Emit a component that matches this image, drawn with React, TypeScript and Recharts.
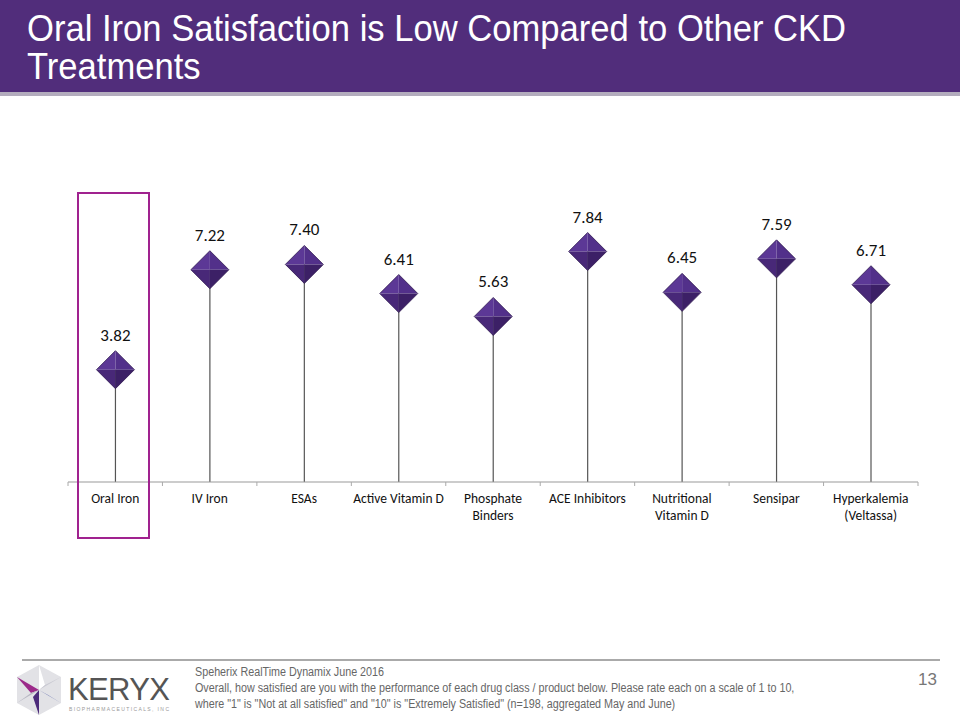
import { ComposedChart, Bar, XAxis, YAxis, LabelList } from "recharts";

const categories = [
  "Oral Iron",
  "IV Iron",
  "ESAs",
  "Active Vitamin D",
  "Phosphate\nBinders",
  "ACE Inhibitors",
  "Nutritional\nVitamin D",
  "Sensipar",
  "Hyperkalemia\n(Veltassa)",
];
const scores = [3.82, 7.22, 7.4, 6.41, 5.63, 7.84, 6.45, 7.59, 6.71];

const data = categories.map((name, i) => ({ name, score: scores[i] }));

const BAND = 850 / 9;
const labelFont = "Carlito, Lato, 'Open Sans', sans-serif";
const arial = "'Liberation Sans', Arial, sans-serif";

function Lollipop(props: any) {
  const { x, y, width, height } = props;
  const cx = x + width / 2;
  const h = 19;
  const w = 19;
  return (
    <g>
      <line x1={cx} y1={y} x2={cx} y2={y + height} stroke="#555" strokeWidth={1.2} />
      <polygon points={`${cx - w},${y} ${cx},${y - h} ${cx},${y}`} fill="#5c3896" />
      <polygon points={`${cx},${y - h} ${cx + w},${y} ${cx},${y}`} fill="#52308a" />
      <polygon points={`${cx - w},${y} ${cx},${y + h} ${cx},${y}`} fill="#482878" />
      <polygon points={`${cx},${y + h} ${cx + w},${y} ${cx},${y}`} fill="#3c2066" />
      <polygon
        points={`${cx - w},${y} ${cx},${y - h} ${cx + w},${y} ${cx},${y + h}`}
        fill="none"
        stroke="#2e1850"
        strokeWidth={0.8}
      />
    </g>
  );
}

function ValueLabel(props: any) {
  const { x, y, width, value } = props;
  return (
    <text
      x={x + width / 2}
      y={y - 29}
      textAnchor="middle"
      fontFamily={labelFont}
      fontSize={17}
      fill="#111"
    >
      {Number(value).toFixed(2)}
    </text>
  );
}

function CategoryTick(props: any) {
  const { x, y, payload, index } = props;
  const lines = String(payload.value).split("\n");
  return (
    <g>
      <line x1={x - BAND / 2} y1={y - 8} x2={x - BAND / 2} y2={y - 4} stroke="#aaa" />
      {index === categories.length - 1 && (
        <line x1={x + BAND / 2} y1={y - 8} x2={x + BAND / 2} y2={y - 4} stroke="#aaa" />
      )}
      {lines.map((l, i) => (
        <text
          key={i}
          x={x}
          y={y + 13 + i * 17}
          textAnchor="middle"
          fontFamily={labelFont}
          fontSize={13.5}
          fill="#111"
        >
          {l}
        </text>
      ))}
    </g>
  );
}

function Logo() {
  return (
    <svg width={175} height={54} style={{ position: "absolute", left: 14, top: 663 }}>
      <polygon points="25,2 47,14 47,40 25,52 3,40 3,14" fill="#e2e2e6" />
      <polygon points="25,2 31,22 25,27" fill="#ffffff" />
      <polygon points="3,14 25,27 17,30" fill="#9c2a8a" />
      <polygon points="47,14 25,27 31,22" fill="#c9c9d2" />
      <polygon points="25,27 47,40 34,32" fill="#3d4b9c" />
      <polygon points="25,27 25,52 19,34" fill="#4b2a7a" />
      <polygon points="25,27 3,40 17,30" fill="#b7b7c2" />
      <text x={54} y={37} fontFamily={arial} fontSize={31} fill="#555" textLength={102} lengthAdjust="spacing">
        KERYX
      </text>
      <text x={55} y={48} fontFamily={arial} fontSize={5} fill="#999" textLength={100} lengthAdjust="spacing">
        BIOPHARMACEUTICALS, INC
      </text>
    </svg>
  );
}

export default function App() {
  return (
    <div
      style={{
        position: "absolute",
        left: 0,
        top: 0,
        width: 960,
        height: 720,
        background: "#fff",
        overflow: "hidden",
      }}
    >
      <div
        style={{
          position: "absolute",
          left: 0,
          top: 0,
          width: 960,
          height: 92,
          background: "#512d7b",
          borderBottom: "4px solid #b3acbd",
        }}
      >
        <div
          style={{
            position: "absolute",
            left: 27,
            top: 10,
            color: "#fff",
            fontFamily: arial,
            fontSize: 37,
            lineHeight: "38px",
            whiteSpace: "nowrap",
            transform: "scaleX(0.935)",
            transformOrigin: "0 0",
          }}
        >
          Oral Iron Satisfaction is Low Compared to Other CKD
          <br />
          Treatments
        </div>
      </div>

      <div style={{ position: "absolute", left: 0, top: 0 }}>
        <ComposedChart
          width={960}
          height={720}
          data={data}
          margin={{ top: 188, right: 42, left: 68, bottom: 178 }}
        >
          <XAxis
            dataKey="name"
            interval={0}
            height={60}
            tick={<CategoryTick />}
            tickLine={false}
            axisLine={{ stroke: "#999" }}
          />
          <YAxis hide domain={[0, 10]} width={0} />
          <Bar dataKey="score" shape={<Lollipop />} isAnimationActive={false}>
            <LabelList dataKey="score" content={<ValueLabel />} />
          </Bar>
        </ComposedChart>
      </div>

      <div
        style={{
          position: "absolute",
          left: 77,
          top: 192,
          width: 69,
          height: 343,
          border: "2px solid #a0228f",
        }}
      />

      <div
        style={{
          position: "absolute",
          left: 22,
          top: 659,
          width: 918,
          height: 2,
          background: "#aaa",
        }}
      />
      <Logo />
      <div
        style={{
          position: "absolute",
          left: 195,
          top: 664,
          fontFamily: arial,
          fontSize: 12.5,
          lineHeight: "16px",
          color: "#666",
          whiteSpace: "nowrap",
          transform: "scaleX(0.86)",
          transformOrigin: "0 0",
        }}
      >
        Speherix RealTime Dynamix June 2016
        <br />
        Overall, how satisfied are you with the performance of each drug class / product below. Please rate each on a scale of 1 to 10,
        <br />
        where "1" is "Not at all satisfied" and "10" is "Extremely Satisfied" (n=198, aggregated May and June)
      </div>
      <div
        style={{
          position: "absolute",
          left: 918,
          top: 670,
          fontFamily: arial,
          fontSize: 17,
          color: "#777",
        }}
      >
        13
      </div>
    </div>
  );
}
